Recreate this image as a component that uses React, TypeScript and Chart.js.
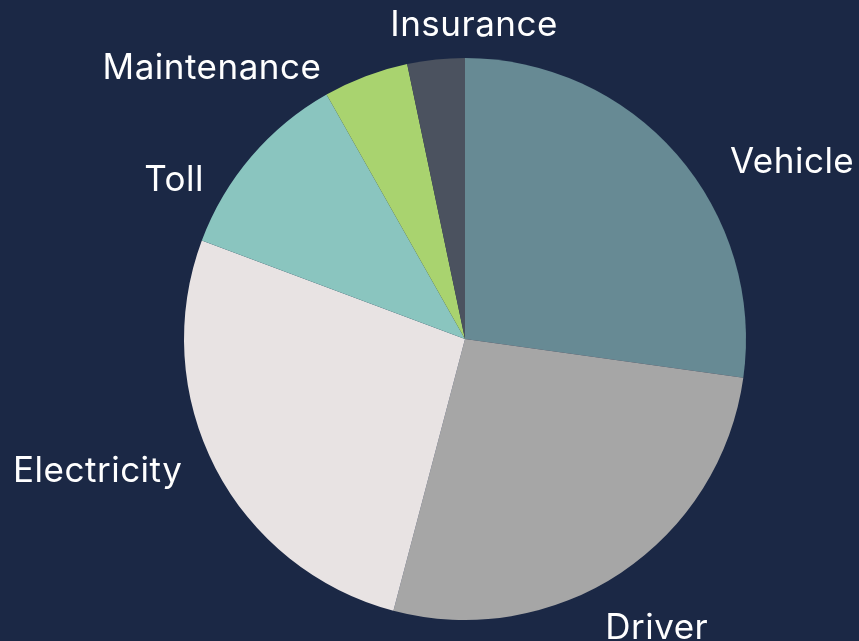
import React, { useEffect, useRef } from "react";
import { Chart, registerables } from "chart.js";

Chart.register(...registerables);

const categories = ["Vehicle", "Driver", "Electricity", "Toll", "Maintenance", "Insurance"];
const shares = [27.2, 26.9, 26.6, 11.1, 4.9, 3.3];
const colors = ["#678a94", "#a6a6a6", "#e8e3e3", "#8ac5bf", "#a9d36f", "#4b525f"];
// label placement nudges relative to each slice's mid-angle (degrees) and outer radius (px)
const labelAngleNudge = [12.6, 0, 7.7, -11.7, -22.3, 7.6];
const labelRadiusNudge = [91, 65, 109, 51, 90, 34];

const BG = "#1b2845";

const outsideLabels = {
  id: "outsideLabels",
  afterDatasetsDraw(chart: any) {
    const ctx = chart.ctx;
    const meta = chart.getDatasetMeta(0);
    ctx.save();
    ctx.fillStyle = "#ffffff";
    ctx.font = "35px Inter, 'Noto Sans', sans-serif";
    (ctx as any).letterSpacing = "0.5px";
    ctx.textAlign = "center";
    ctx.textBaseline = "middle";
    meta.data.forEach((arc: any, i: number) => {
      const { x, y, startAngle, endAngle, outerRadius } = arc.getProps(
        ["x", "y", "startAngle", "endAngle", "outerRadius"],
        true
      );
      const mid = (startAngle + endAngle) / 2 + (labelAngleNudge[i] * Math.PI) / 180;
      const r = outerRadius + labelRadiusNudge[i];
      ctx.fillText(categories[i], x + Math.cos(mid) * r, y + Math.sin(mid) * r + 1);
    });
    ctx.restore();
  },
};

export default function App() {
  const ref = useRef<HTMLCanvasElement | null>(null);
  useEffect(() => {
    document.body.style.margin = "0";
    document.body.style.background = BG;
    const chart = new Chart(ref.current as HTMLCanvasElement, {
      type: "pie",
      data: {
        labels: categories,
        datasets: [
          {
            data: shares,
            backgroundColor: colors,
            borderWidth: 0,
          },
        ],
      },
      options: {
        animation: false,
        responsive: false,
        layout: { padding: { top: 58, bottom: 21, left: 184, right: 113 } },
        plugins: {
          legend: { display: false },
          tooltip: { enabled: false },
        },
      },
      plugins: [outsideLabels],
    });
    return () => chart.destroy();
  }, []);
  return (
    <div style={{ position: "absolute", left: 0, top: 0, width: 859, height: 641, background: BG }}>
      <canvas ref={ref} width={859} height={641} style={{ width: 859, height: 641 }} />
    </div>
  );
}
